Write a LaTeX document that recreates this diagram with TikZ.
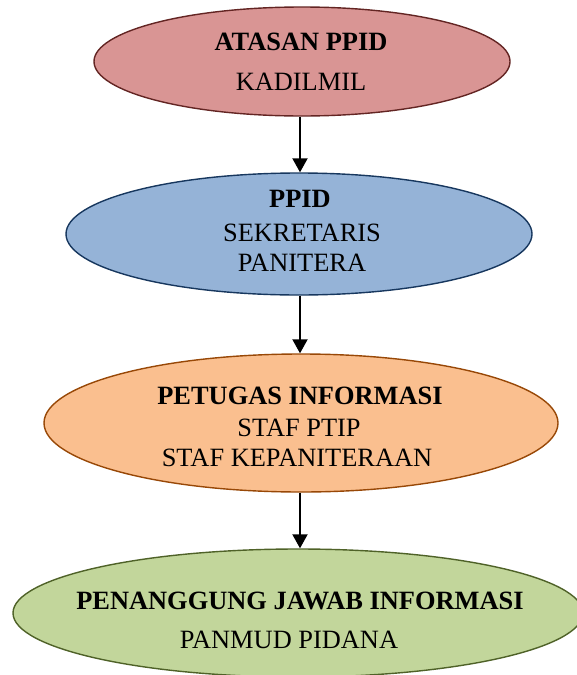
\documentclass[tikz,border=0pt]{standalone}
\usepackage{fontspec}
\setmainfont{Liberation Serif}
\usetikzlibrary{shapes.geometric,arrows.meta}
\definecolor{fillA}{HTML}{D99594}
\definecolor{lineA}{HTML}{632523}
\definecolor{fillB}{HTML}{95B3D7}
\definecolor{lineB}{HTML}{17375E}
\definecolor{fillC}{HTML}{FABF8F}
\definecolor{lineC}{HTML}{984807}
\definecolor{fillD}{HTML}{C2D69B}
\definecolor{lineD}{HTML}{4F6228}
\tikzset{
  oval/.style={ellipse, inner sep=0pt, line width=1.4pt},
  lbl/.style={anchor=base, inner sep=0pt, font=\fontsize{26.4}{30}\selectfont},
  blbl/.style={lbl, font=\fontsize{26.4}{30}\selectfont\bfseries},
  arr/.style={line width=2pt, -{Triangle[width=15pt,length=14pt]}}
}
\begin{document}
\begin{tikzpicture}[x=1pt,y=-1pt]
\useasboundingbox (0,0) rectangle (576,675);
\node[oval, fill=fillA, draw=lineA, minimum width=416pt, minimum height=109pt] (e1) at (302,61.5) {};
\node[oval, fill=fillB, draw=lineB, minimum width=466pt, minimum height=122pt] (e2) at (299,234) {};
\node[oval, fill=fillC, draw=lineC, minimum width=514pt, minimum height=138pt] (e3) at (301,423) {};
\node[oval, fill=fillD, draw=lineD, minimum width=570pt, minimum height=128pt] (e4) at (298,613) {};

\node[blbl] (t1a) at (301,50) {ATASAN PPID};
\node[lbl]  (t1b) at (301,90) {KADILMIL};

\node[blbl] (t2a) at (300,207) {PPID};
\node[lbl]  (t2b) at (302,241) {SEKRETARIS};
\node[lbl]  (t2c) at (302,271) {PANITERA};

\node[blbl] (t3a) at (300,404) {PETUGAS INFORMASI};
\node[lbl]  (t3b) at (299,436) {STAF PTIP};
\node[lbl]  (t3c) at (297,466) {STAF KEPANITERAAN};

\node[blbl] (t4a) at (300,609) {PENANGGUNG JAWAB INFORMASI};
\node[lbl]  (t4b) at (289,648) {PANMUD PIDANA};

\coordinate (c1) at (300,0);
\draw[arr] (c1 |- e1.south) -- (c1 |- e2.north);
\draw[arr] (c1 |- e2.south) -- (c1 |- e3.north);
\draw[arr] (c1 |- e3.south) -- (c1 |- e4.north);
\end{tikzpicture}
\end{document}
